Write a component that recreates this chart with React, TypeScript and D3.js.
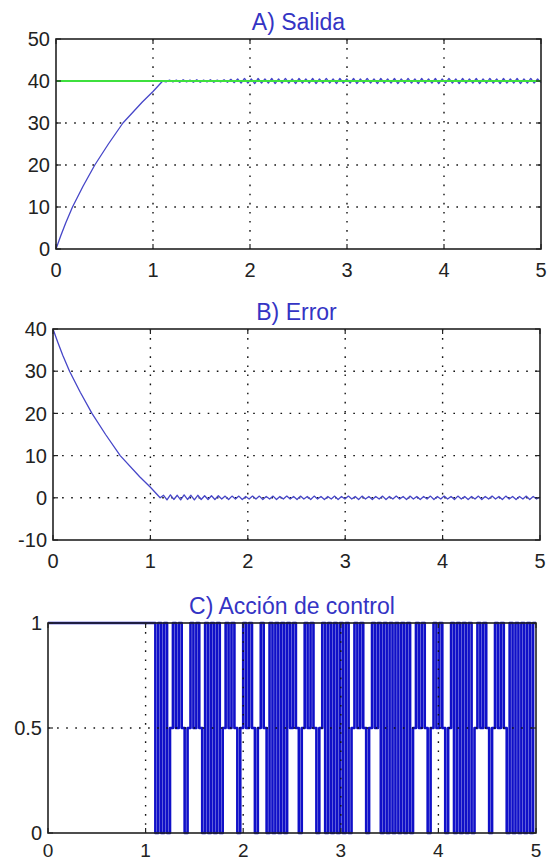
import React from 'react';
import * as d3 from 'd3';

// shared x axis (time, s)
const xTicks = [0, 1, 2, 3, 4, 5];

// A) Salida
const yTicksA = [0, 10, 20, 30, 40, 50];
const refTime = [0, 5];
const refValues = [40, 40];
const riseTime = [0, 0.05, 0.1, 0.17, 0.28, 0.4, 0.54, 0.69, 0.89, 1.0, 1.1];
const riseValues = [0, 3.2, 6.2, 10, 15, 20, 25, 30, 35, 37.5, 40];
const rippleStart = 1.1;
const rippleEnd = 5;
const outputRipple = [
  40.0, 39.8, 40.2, 39.8, 40.2, 39.7, 40.3, 39.8, 40.2, 39.7,
  40.3, 39.7, 40.2, 39.8, 40.3, 39.7, 40.2, 39.8, 40.3, 39.7,
  40.4, 39.6, 40.5, 39.5, 40.6, 39.5, 40.5, 39.4, 40.6, 39.5,
  40.5, 39.5, 40.6, 39.4, 40.5, 39.5, 40.6, 39.5, 40.5, 39.4,
  40.6, 39.5, 40.5, 39.5, 40.6, 39.4, 40.5, 39.5, 40.6, 39.5,
  40.5, 39.4, 40.6, 39.5, 40.5, 39.5, 40.6, 39.4, 40.5, 39.5,
  40.6, 39.5, 40.5, 39.4, 40.6, 39.5, 40.5, 39.5, 40.6, 39.4,
  40.5, 39.5, 40.6, 39.5, 40.5, 39.4, 40.6, 39.5, 40.5, 39.5,
  40.6, 39.4, 40.5, 39.5, 40.6, 39.5, 40.5, 39.4, 40.6, 39.5,
  40.5, 39.5, 40.6, 39.4, 40.5, 39.5, 40.6, 39.5, 40.5, 39.4,
  40.6, 39.5, 40.5, 39.5, 40.6, 39.4, 40.5, 39.5, 40.6, 39.5,
  40.5, 39.6,
];

// B) Error
const yTicksB = [-10, 0, 10, 20, 30, 40];
const errDecayValues = [40, 36.8, 33.8, 30, 25, 20, 15, 10, 5, 2.5, 0];
const errorRipple = [
  0.0, 0.6, -0.5, 0.7, -0.4, 0.6, -0.5, 0.7, -0.4, 0.6,
  -0.5, 0.6, -0.4, 0.5, -0.4, 0.5, -0.4, 0.5, -0.3, 0.4,
  -0.4, 0.4, -0.3, 0.4, -0.4, 0.3, -0.3, 0.4, -0.3, 0.4,
  -0.4, 0.3, -0.3, 0.4, -0.4, 0.3, -0.3, 0.4, -0.3, 0.3,
  -0.4, 0.4, -0.3, 0.3, -0.4, 0.4, -0.3, 0.3, -0.4, 0.3,
  -0.3, 0.4, -0.4, 0.3, -0.3, 0.4, -0.3, 0.3, -0.4, 0.4,
  -0.3, 0.3, -0.4, 0.3, -0.3, 0.4, -0.4, 0.3, -0.3, 0.4,
  -0.3, 0.3, -0.4, 0.4, -0.3, 0.3, -0.4, 0.3, -0.3, 0.4,
  -0.4, 0.3, -0.3, 0.4, -0.3, 0.3, -0.4, 0.4, -0.3, 0.3,
  -0.4, 0.3, -0.3, 0.4, -0.4, 0.3, -0.3, 0.4, -0.3, 0.3,
  -0.4, 0.4, -0.3, 0.3, -0.4, 0.3, -0.3, 0.4, -0.4, 0.3,
  -0.3, 0.2,
];

// C) Acción de control
const yTicksC = [0, 0.5, 1];
const yLabelsC = ['0', '0.5', '1'];
const holdTime = [0, 1.1];
const holdValues = [1, 1];
const controlLevels = [
  0, 1, 0, 1, 0,
  0.5, 1, 0.5, 1, 0.5, 0, 0.5, 1, 0.5, 1, 0.5, 0,
  1, 0, 1, 0, 1, 0,
  0.5, 1, 0.5, 1, 0.5, 0, 0.5, 1, 0.5, 1, 0.5, 0, 0.5, 1, 0.5,
  0, 1, 0, 1, 0, 1, 0, 1,
  0.5, 1, 0.5, 0, 0.5, 1, 0.5, 1, 0.5, 0, 0.5, 1,
  0, 1, 0, 1, 0, 1, 0, 1, 0,
  0.5, 1, 0.5, 1, 0.5, 0, 0.5, 1, 0.5, 1,
  0, 1, 0, 1, 0, 1, 0, 1, 0, 1, 0,
  0.5, 1, 0.5, 1, 0.5, 0, 0.5, 1, 0.5, 1, 0.5, 0, 0.5,
  1, 0, 1, 0, 1, 0, 1, 0,
  0.5, 1, 0.5, 1, 0.5, 0, 0.5, 1, 0.5, 1, 0.5, 0,
  1, 0, 1, 0, 1, 0, 1, 0, 1,
];

const FONT = 'Liberation Sans, Arial, sans-serif';
const TITLE_COLOR = '#3434c4';
const LINE_BLUE = '#4646c8';

type Pt = [number, number];
type Series = { pts: Pt[]; color: string; width: number; step?: boolean };

function zipPts(t: number[], v: number[]): Pt[] {
  return t.map((d, i) => [d, v[i]] as Pt);
}

function ripplePts(vals: number[]): Pt[] {
  const dt = (rippleEnd - rippleStart) / (vals.length - 1);
  return vals.map((v, i) => [rippleStart + i * dt, v] as Pt);
}

function Panel(props: {
  left: number; right: number; top: number; bottom: number;
  yDomain: [number, number]; yTicks: number[]; yLabels?: string[];
  title: string; series: Series[]; gridOnTop?: boolean; labelGap?: number; labelSize?: number;
}) {
  const { left, right, top, bottom, yDomain, yTicks, yLabels, title, series, gridOnTop } = props;
  const labelGap = props.labelGap ?? 28;
  const labelSize = props.labelSize ?? 20;
  const x = d3.scaleLinear().domain([0, 5]).range([left, right]);
  const y = d3.scaleLinear().domain(yDomain).range([bottom, top]);

  const grid = (
    <g stroke="#111" strokeWidth={1.4} strokeDasharray="1.6,7.5" fill="none">
      {xTicks.slice(1, -1).map(t => (
        <line key={'gx' + t} x1={x(t)} x2={x(t)} y1={top} y2={bottom} />
      ))}
      {yTicks.slice(1, -1).map(t => (
        <line key={'gy' + t} x1={left} x2={right} y1={y(t)} y2={y(t)} />
      ))}
    </g>
  );

  const lines = series.map((s, i) => {
    const gen = d3.line<Pt>()
      .x(d => x(d[0]))
      .y(d => y(d[1]))
      .curve(s.step ? d3.curveStepAfter : d3.curveLinear);
    return (
      <path key={i} d={gen(s.pts) || ''} fill="none" stroke={s.color}
        strokeWidth={s.width} strokeLinejoin="round" />
    );
  });

  const tickLen = 5;
  return (
    <g>
      <text x={(left + right) / 2} y={top - 9} textAnchor="middle"
        fontFamily={FONT} fontSize={23} fill={TITLE_COLOR}>{title}</text>
      {!gridOnTop && grid}
      {lines}
      {gridOnTop && grid}
      <g stroke="#222" strokeWidth={1.2}>
        {xTicks.map(t => (
          <g key={'tx' + t}>
            <line x1={x(t)} x2={x(t)} y1={bottom} y2={bottom - tickLen} />
            <line x1={x(t)} x2={x(t)} y1={top} y2={top + tickLen} />
          </g>
        ))}
        {yTicks.map(t => (
          <g key={'ty' + t}>
            <line x1={left} x2={left + tickLen} y1={y(t)} y2={y(t)} />
            <line x1={right} x2={right - tickLen} y1={y(t)} y2={y(t)} />
          </g>
        ))}
      </g>
      <rect x={left} y={top} width={right - left} height={bottom - top}
        fill="none" stroke="#222" strokeWidth={1.6} />
      <g fontFamily={FONT} fill="#222">
        {xTicks.map(t => (
          <text key={'lx' + t} x={x(t)} y={bottom + labelGap} fontSize={labelSize}
            textAnchor="middle">{t}</text>
        ))}
        {yTicks.map((t, i) => (
          <text key={'ly' + t} x={left - 6} y={y(t)} dy="0.36em" fontSize={20}
            textAnchor="end">
            {yLabels ? yLabels[i] : String(t)}
          </text>
        ))}
      </g>
    </g>
  );
}

export default function App() {
  const outputPts = zipPts(riseTime, riseValues).concat(ripplePts(outputRipple).slice(1));
  const errorPts = zipPts(riseTime, errDecayValues).concat(ripplePts(errorRipple).slice(1));

  const dtC = (rippleEnd - rippleStart) / controlLevels.length;
  const controlPts: Pt[] = zipPts(holdTime, holdValues).slice(0, 1)
    .concat(controlLevels.map((v, i) => [rippleStart + i * dtC, v] as Pt))
    .concat([[rippleEnd, controlLevels[controlLevels.length - 1]]]);

  return (
    <svg width={547} height={863} style={{ position: 'absolute', left: 0, top: 0, background: '#fff' }}>
      <rect x={0} y={0} width={547} height={863} fill="#fff" />
      <Panel left={56} right={541} top={39} bottom={249}
        yDomain={[0, 50]} yTicks={yTicksA} title="A) Salida"
        series={[
          { pts: outputPts, color: LINE_BLUE, width: 1.3 },
          { pts: zipPts(refTime, refValues), color: '#3ee03e', width: 1.8 },
        ]} />
      <Panel left={53} right={540} top={329} bottom={540}
        yDomain={[-10, 40]} yTicks={yTicksB} title="B) Error"
        series={[{ pts: errorPts, color: LINE_BLUE, width: 1.3 }]} />
      <Panel left={48} right={536} top={623} bottom={833}
        yDomain={[0, 1]} yTicks={yTicksC} yLabels={yLabelsC}
        title="C) Acción de control" gridOnTop labelGap={24} labelSize={19}
        series={[{ pts: controlPts, color: '#1010c8', width: 2.6, step: true }]} />
    </svg>
  );
}
